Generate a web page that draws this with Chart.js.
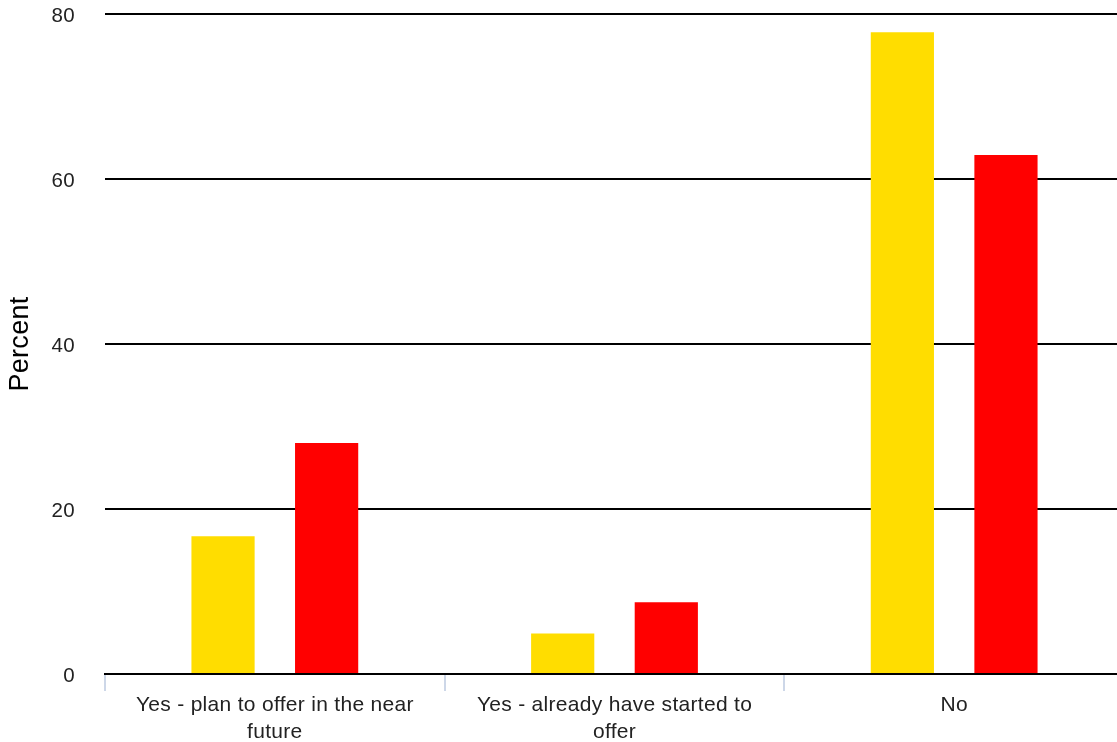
<!DOCTYPE html>
<html>
<head>
<meta charset="utf-8">
<script src="https://cdn.jsdelivr.net/npm/chart.js@4"></script>
<style>
  html, body { margin: 0; padding: 0; background: #fff; overflow: hidden; }
  #wrap { width: 1124px; height: 742px; }
</style>
</head>
<body>
<div id="wrap"><canvas id="myChart"></canvas></div>
<script>
const categories = [
  ['Yes - plan to offer in the near', 'future'],
  ['Yes - already have started to', 'offer'],
  'No'
];
const seriesA = [16.7, 4.9, 77.8];
const seriesB = [28.0, 8.7, 62.9];
const seriesColors = ['#ffdd00', '#ff0000'];
const yTicks = [0, 20, 40, 60, 80];

const fontFamily = 'Liberation Sans, Arial, sans-serif';

// slightly looser text, like the original
const spacing = {
  id: 'spacing',
  beforeLayout: (chart) => { chart.ctx.letterSpacing = '0.3px'; },
  beforeDraw: (chart) => { chart.ctx.letterSpacing = '0.3px'; }
};

let ctx = document.getElementById('myChart').getContext('2d');
let chart = new Chart(ctx, {
  type: 'bar',
  plugins: [spacing],
  data: {
    labels: categories,
    datasets: [
      { label: 'A', data: seriesA, backgroundColor: seriesColors[0], categoryPercentage: 0.61, barPercentage: 0.61 },
      { label: 'B', data: seriesB, backgroundColor: seriesColors[1], categoryPercentage: 0.61, barPercentage: 0.61 }
    ]
  },
  options: {
    responsive: true,
    maintainAspectRatio: false,
    animation: false,
    layout: { padding: { top: 14, right: 0, bottom: 0, left: 0 } },
    plugins: { legend: { display: false }, tooltip: { enabled: false } },
    scales: {
      x: {
        afterFit: (scale) => { scale.height = 68; scale.paddingLeft = 0; scale.paddingRight = 0; },
        grid: { display: true, drawOnChartArea: false, offset: true, tickLength: 17, color: '#cdd7e8', lineWidth: 2 },
        border: { display: true, color: '#000', width: 2 },
        ticks: { color: '#222', font: { family: fontFamily, size: 21, lineHeight: 1.28 }, padding: 1, maxRotation: 0 }
      },
      y: {
        min: yTicks[0], max: yTicks[yTicks.length - 1],
        afterFit: (scale) => { scale.width = 105; scale.paddingTop = 0; scale.paddingBottom = 0; },
        afterBuildTicks: (scale) => { scale.ticks = yTicks.map(v => ({ value: v })); },
        grid: { color: '#000', lineWidth: 2, drawTicks: false },
        border: { display: false },
        ticks: { color: '#222', font: { family: fontFamily, size: 20.5 }, padding: 30, labelOffset: 2 },
        title: { display: true, text: 'Percent', color: '#000', font: { family: fontFamily, size: 27 }, padding: { top: 4, bottom: 0 } }
      }
    }
  }
});
</script>
</body>
</html>
